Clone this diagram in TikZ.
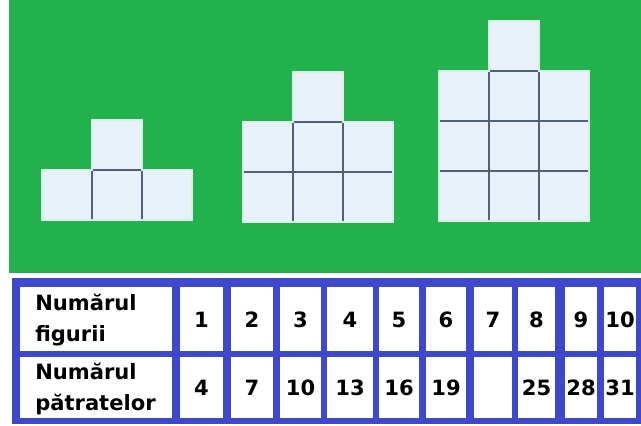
\documentclass[tikz,border=0pt]{standalone}
\usepackage{fontspec}
\setmainfont{DejaVu Sans}
\usepackage{tikz}

\definecolor{bggreen}{HTML}{22B14C}
\definecolor{tblue}{HTML}{3F48CC}
\definecolor{sqfill}{HTML}{E8F0F8}
\definecolor{sqline}{HTML}{4F6078}
\definecolor{sqedge}{HTML}{D8F0EC}

\tikzset{
  sq/.style={fill=sqfill, draw=sqline, line width=0.9pt},
  sqout/.style={draw=sqedge, line width=1.2pt},
  cellbg/.style={fill=white},
  num/.style={inner sep=0pt, font=\fontsize{15.8}{18}\selectfont\bfseries},
  hdr/.style={inner sep=0pt, anchor=west, align=left,
    font=\fontsize{15.8}{23.5}\selectfont\bfseries}
}

% one unit square of a figure, lower left corner given
\newcommand{\unitsq}[2]{\draw[sq] (#1,#2) rectangle ++(50,-50);}

\begin{document}
\begin{tikzpicture}[x=0.75pt, y=-0.75pt]
  \useasboundingbox (0,0) rectangle (641,425);

  % Green panel with the three figures
  \fill[bggreen] (9,0) rectangle (641,273);

  % Figure 1
  \foreach \i in {0,1,2} {\unitsq{42+50*\i}{220}}
  \unitsq{92}{170}
  \draw[sqout] (42,220) -- (42,170) -- (92,170) -- (92,120) -- (142,120)
    -- (142,170) -- (192,170) -- (192,220) -- cycle;

  % Figure 2
  \foreach \j in {0,1} {\foreach \i in {0,1,2} {\unitsq{243+50*\i}{222-50*\j}}}
  \unitsq{293}{122}
  \draw[sqout] (243,222) -- (243,122) -- (293,122) -- (293,72) -- (343,72)
    -- (343,122) -- (393,122) -- (393,222) -- cycle;

  % Figure 3
  \foreach \j in {0,1,2} {\foreach \i in {0,1,2} {\unitsq{439+50*\i}{221-50*\j}}}
  \unitsq{489}{71}
  \draw[sqout] (439,221) -- (439,71) -- (489,71) -- (489,21) -- (539,21)
    -- (539,71) -- (589,71) -- (589,221) -- cycle;

  % Table
  \fill[tblue] (12,278) rectangle (641,424);
  \fill[cellbg] (20,287) rectangle (172,351);
  \fill[cellbg] (20,357) rectangle (172,418);
  \node[hdr] (hfig) at (35,320) {Numărul\\figurii};
  \node[hdr] (hsq) at (35,389) {Numărul\\pătratelor};

  \foreach \n/\a/\b/\up/\lo in {1/180/223/1/4, 2/231/273/2/7, 3/280/321/3/10,
      4/327/373/4/13, 5/379/419/5/16, 6/426/466/6/19, 7/474/512/7/,
      8/518/555/8/25, 9/565/597/9/28, 10/604/636/10/31} {
    \fill[cellbg] (\a,287) rectangle (\b,351);
    \fill[cellbg] (\a,357) rectangle (\b,418);
    \node[num] (fig\n) at ({(\a+\b)/2},320) {\up};
    \node[num] (nsq\n) at ({(\a+\b)/2},388) {\lo};
  }
\end{tikzpicture}
\end{document}
